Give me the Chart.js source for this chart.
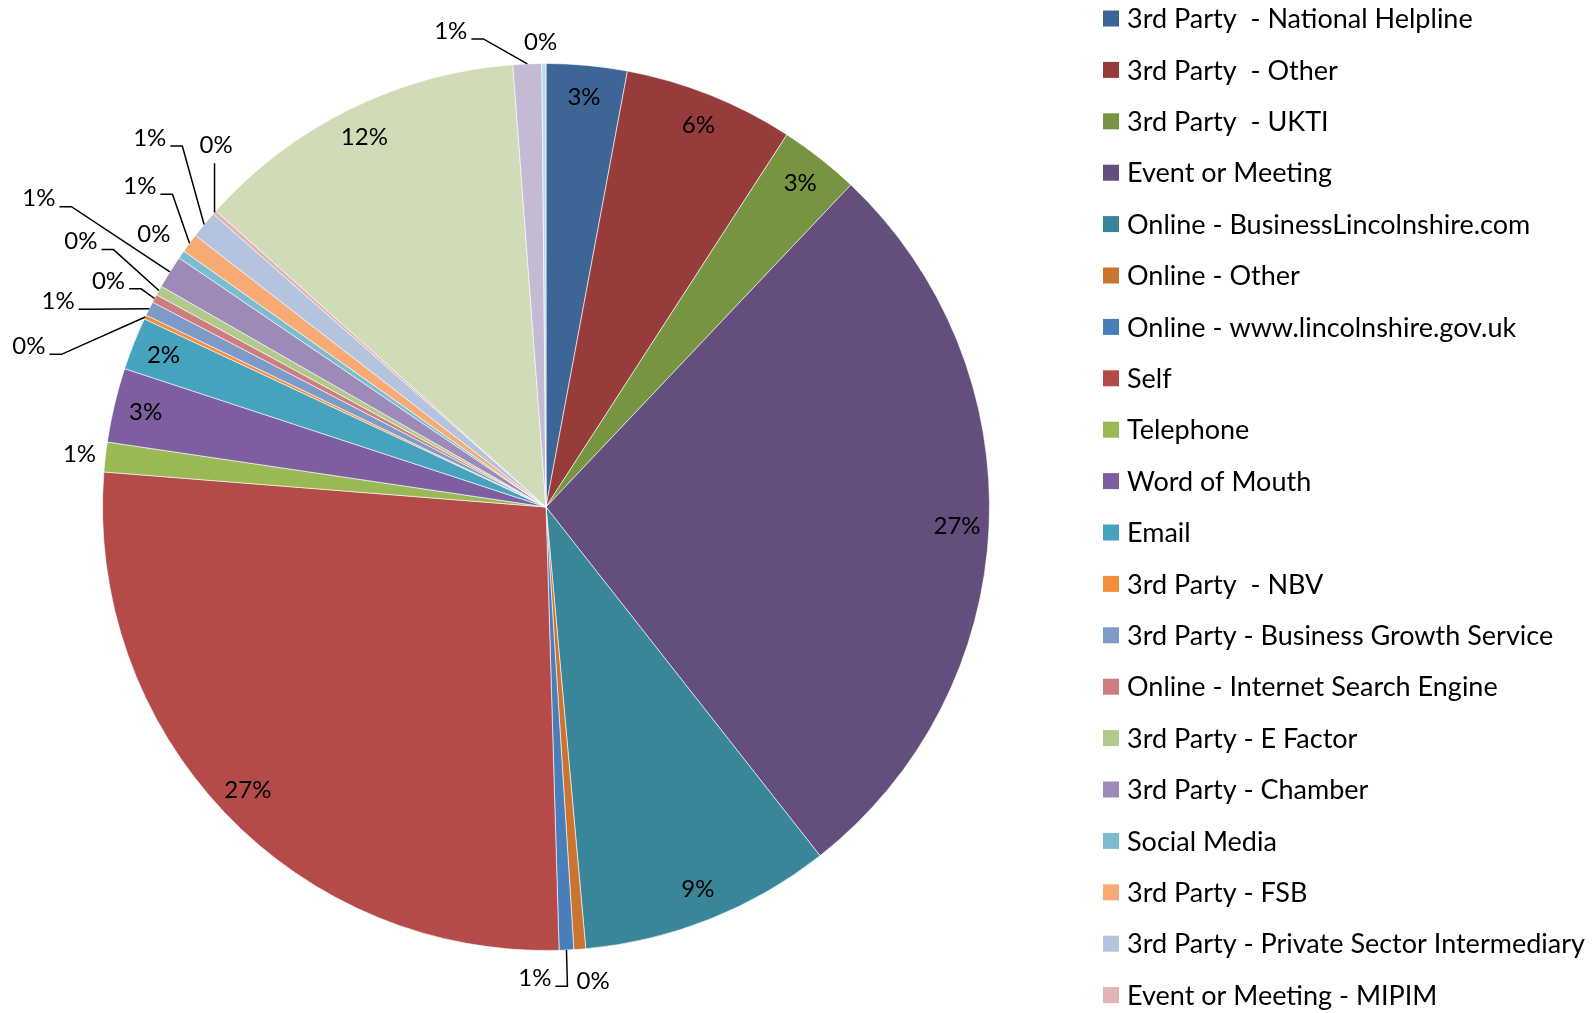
<!DOCTYPE html>
<html>
<head>
<meta charset="utf-8">
<script src="https://cdn.jsdelivr.net/npm/chart.js@4.4.1/dist/chart.umd.min.js"></script>
<style>
  html, body { margin: 0; padding: 0; background: #fff; }
  canvas { display: block; }
</style>
</head>
<body>
<canvas id="chart" width="1596" height="1013"></canvas>
<script>
// categorias (as 3 ultimas ficam fora da legenda, cortadas como no original)
var categories = [
    '3rd Party  - National Helpline',
    '3rd Party  - Other',
    '3rd Party  - UKTI',
    'Event or Meeting',
    'Online - BusinessLincolnshire.com',
    'Online - Other',
    'Online - www.lincolnshire.gov.uk',
    'Self',
    'Telephone',
    'Word of Mouth',
    'Email',
    '3rd Party  - NBV',
    '3rd Party - Business Growth Service',
    'Online - Internet Search Engine',
    '3rd Party - E Factor',
    '3rd Party - Chamber',
    'Social Media',
    '3rd Party - FSB',
    '3rd Party - Private Sector Intermediary',
    'Event or Meeting - MIPIM',
    'Other',
    'Not Known',
    '(blank)'
];

// percentual de cada fatia
var shares = [2.94, 6.20, 2.92, 27.34, 9.17, 0.43, 0.53, 26.73, 1.08, 2.71, 1.92,
              0.15, 0.52, 0.30, 0.35, 1.20, 0.30, 0.70, 1.00, 0.15, 12.17, 1.04, 0.15];

var colors = [
    '#3D6596', '#963C3A', '#779440', '#634E7E', '#39869A', '#CA7431',
    '#4A7EBB', '#B54B49', '#98B954', '#7D5FA0', '#46A3BE', '#F38E3C',
    '#7E9BC8', '#CB7E7D', '#B1C98A', '#9D8AB8', '#7CBCD1', '#F8AA75',
    '#B5C4DE', '#DFB4B3', '#D0DBB8', '#C5BAD4', '#B7DDE8'
];

// rotulos externos: [distancia alem da borda, desvio angular em graus, linha guia]
var labelPlacement = [
    null, null, null, null, null,
    [33, -1.3, false],
    [28, 4.0, true],
    null,
    [26, 0, false],
    null, null,
    [98, -8.1, true],
    [86, -3.7, true],
    [49, -0.7, true],
    [92, 0.5, true],
    [150, -0.7, true],
    [34, 0.1, false],
    [74, 1.8, true],
    [98, 3.4, true],
    [46, 6.0, true],
    null,
    [42, -8.9, true],
    [21, -0.4, false]
];

var percentLabels = {
    id: 'percentLabels',
    afterDatasetsDraw: function(chart) {
        var ctx = chart.ctx;
        var meta = chart.getDatasetMeta(0);
        var values = chart.data.datasets[0].data;
        var total = values.reduce(function(a, b) { return a + b; }, 0);
        ctx.save();
        ctx.font = '24px Lato';
        ctx.fillStyle = '#000';
        ctx.strokeStyle = '#000';
        ctx.lineWidth = 1.5;
        ctx.textAlign = 'center';
        ctx.textBaseline = 'middle';
        meta.data.forEach(function(arc, i) {
            var text = Math.round(values[i] / total * 100) + '%';
            var mid = (arc.startAngle + arc.endAngle) / 2;
            var R = arc.outerRadius;
            var p = labelPlacement[i];
            if (!p) {
                ctx.fillText(text, arc.x + Math.cos(mid) * (R - 32), arc.y + Math.sin(mid) * (R - 32));
                return;
            }
            var a = mid + p[1] * Math.PI / 180;
            var lx = arc.x + Math.cos(a) * (R + p[0]);
            var ly = arc.y + Math.sin(a) * (R + p[0]);
            ctx.fillText(text, lx, ly);
            if (!p[2]) return;

            var w = ctx.measureText(text).width;
            var rx = arc.x + Math.cos(mid) * R;
            var ry = arc.y + Math.sin(mid) * R;
            ctx.beginPath();
            if (rx > lx + w / 2 + 4) {
                ctx.moveTo(lx + w / 2 + 4, ly + 8);
                ctx.lineTo(lx + w / 2 + 16, ly + 8);
            } else if (rx < lx - w / 2 - 4) {
                ctx.moveTo(lx - w / 2 - 4, ly + 8);
                ctx.lineTo(lx - w / 2 - 16, ly + 8);
            } else if (ry > ly) {
                ctx.moveTo(rx, ly + 18);
            } else {
                ctx.moveTo(rx, ly - 18);
            }
            ctx.lineTo(rx, ry);
            ctx.stroke();
        });
        ctx.restore();
    }
};

// legenda desenhada a direita; itens que passam da altura ficam cortados
var sideLegend = {
    id: 'sideLegend',
    afterDraw: function(chart) {
        var ctx = chart.ctx;
        var labels = chart.data.labels;
        var bg = chart.data.datasets[0].backgroundColor;
        ctx.save();
        ctx.font = '27px Lato';
        ctx.textAlign = 'left';
        ctx.textBaseline = 'middle';
        for (var i = 0; i < labels.length; i++) {
            var cy = 18.5 + i * 51.4;
            ctx.fillStyle = bg[i];
            ctx.fillRect(1103, cy - 8, 16, 16);
            ctx.fillStyle = '#000';
            ctx.fillText(labels[i], 1127, cy + 1);
        }
        ctx.restore();
    }
};

var ctx = document.getElementById('chart').getContext('2d');
var myChart = new Chart(ctx, {
    type: 'pie',
    data: {
        labels: categories,
        datasets: [{
            data: shares,
            backgroundColor: colors,
            borderColor: 'rgba(255,255,255,0.6)',
            borderWidth: 1
        }]
    },
    options: {
        responsive: false,
        animation: false,
        layout: {
            padding: { top: 63, bottom: 62, left: 102, right: 606 }
        },
        plugins: {
            legend: { display: false },
            tooltip: { enabled: false }
        }
    },
    plugins: [percentLabels, sideLegend]
});
</script>
</body>
</html>
